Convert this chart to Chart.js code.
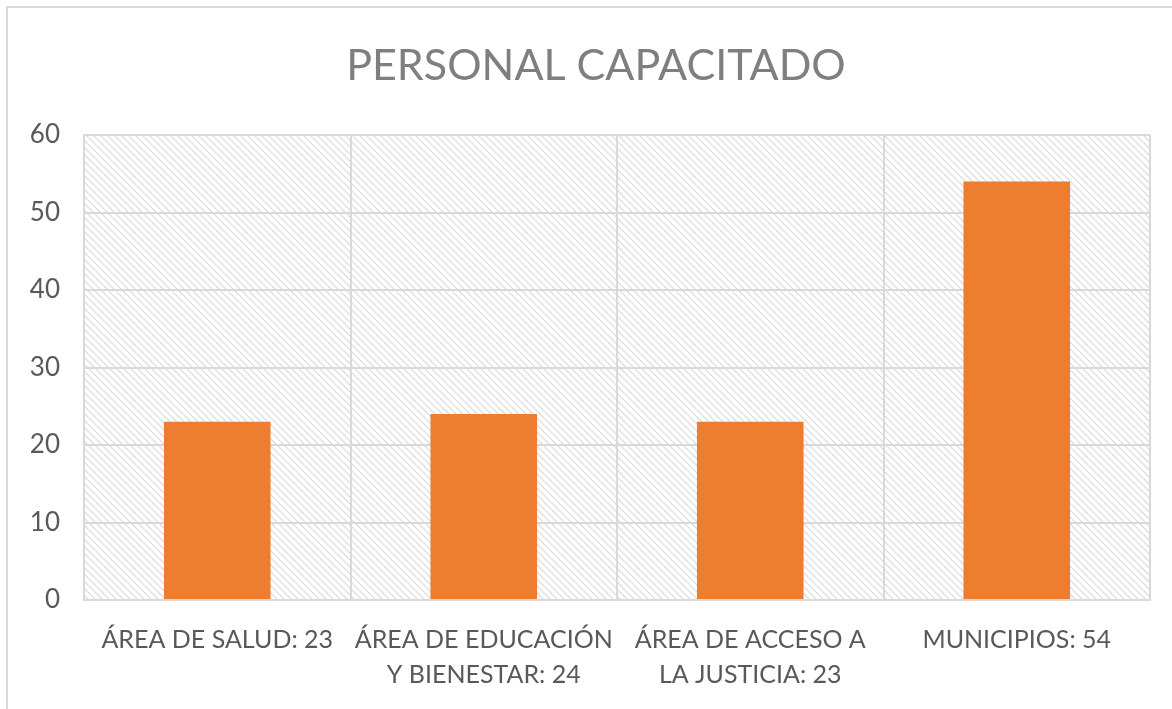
<!DOCTYPE html>
<html>
<head>
<meta charset="utf-8">
<script src="https://cdn.jsdelivr.net/npm/chart.js@4"></script>
<style>
    html, body { margin: 0; padding: 0; background: #fff; }
    #frame {
        position: absolute; left: 6px; top: 6px; width: 1166px; height: 703px;
        border-top: 2px solid #d9d9d9; border-left: 2px solid #d9d9d9;
        box-sizing: border-box;
    }
    #wrap { position: absolute; left: 0; top: 0; width: 1164px; height: 701px; }
</style>
</head>
<body>
<div id="frame"><div id="wrap"><canvas id="chart"></canvas></div></div>
<script>
// data
const chartTitle = 'PERSONAL CAPACITADO';
const categories = [
    'ÁREA DE SALUD: 23',
    ['ÁREA DE EDUCACIÓN', 'Y BIENESTAR: 24'],
    ['ÁREA DE ACCESO A', 'LA JUSTICIA: 23'],
    'MUNICIPIOS: 54'
];
const personal = [23, 24, 23, 54];
const yTicks = [0, 10, 20, 30, 40, 50, 60];

const FONT = 'Lato, "Open Sans", sans-serif';

// diagonal hatch behind the plot area
function makeHatch(ctx) {
    const s = 7;
    const c = document.createElement('canvas');
    c.width = s; c.height = s;
    const g = c.getContext('2d');
    g.strokeStyle = '#d9d9d9';
    g.lineWidth = 1.2;
    g.beginPath();
    g.moveTo(-1, -1); g.lineTo(s + 1, s + 1);
    g.moveTo(-1, s - 1); g.lineTo(1, s + 1);
    g.moveTo(s - 1, -1); g.lineTo(s + 1, 1);
    g.stroke();
    return ctx.createPattern(c, 'repeat');
}

const hatchPlugin = {
    id: 'hatch',
    beforeDraw(chart) {
        const { ctx, chartArea: a } = chart;
        ctx.save();
        ctx.fillStyle = makeHatch(ctx);
        ctx.fillRect(a.left, a.top, a.right - a.left, a.bottom - a.top);
        ctx.restore();
    }
};

// title is centred a little left of the plot, like the original
const titlePlugin = {
    id: 'centeredTitle',
    afterDraw(chart) {
        const ctx = chart.ctx;
        ctx.save();
        ctx.font = '43px ' + FONT;
        ctx.fillStyle = '#7f7f7f';
        ctx.textAlign = 'center';
        ctx.textBaseline = 'middle';
        ctx.fillText(chartTitle, 588, 58);
        ctx.restore();
    }
};

const ctx = document.getElementById('chart').getContext('2d');
new Chart(ctx, {
    type: 'bar',
    data: {
        labels: categories,
        datasets: [{
            label: 'Personal capacitado',
            data: personal,
            backgroundColor: '#ed7d31',
            borderWidth: 0,
            categoryPercentage: 1,
            barPercentage: 0.4
        }]
    },
    options: {
        responsive: true,
        maintainAspectRatio: false,
        animation: false,
        layout: { padding: { left: 2, right: 22, top: 127, bottom: 17 } },
        plugins: {
            legend: { display: false },
            tooltip: { enabled: false },
            title: { display: false }
        },
        scales: {
            x: {
                afterFit: axis => { axis.height = 92; },
                grid: { color: '#d9d9d9', lineWidth: 2, drawTicks: false, offset: true },
                border: { color: '#d9d9d9', width: 2 },
                ticks: {
                    color: '#595959',
                    font: { family: FONT, size: 25, lineHeight: 1.4 },
                    padding: 22,
                    maxRotation: 0,
                    autoSkip: false
                }
            },
            y: {
                min: 0,
                max: 60,
                afterBuildTicks: axis => { axis.ticks = yTicks.map(v => ({ value: v })); },
                afterFit: axis => { axis.width = 74; },
                grid: { color: '#d9d9d9', lineWidth: 2, drawTicks: false },
                border: { color: '#d9d9d9', width: 2 },
                ticks: {
                    color: '#595959',
                    font: { family: FONT, size: 26 },
                    padding: 24
                }
            }
        }
    },
    plugins: [hatchPlugin, titlePlugin]
});
</script>
</body>
</html>
